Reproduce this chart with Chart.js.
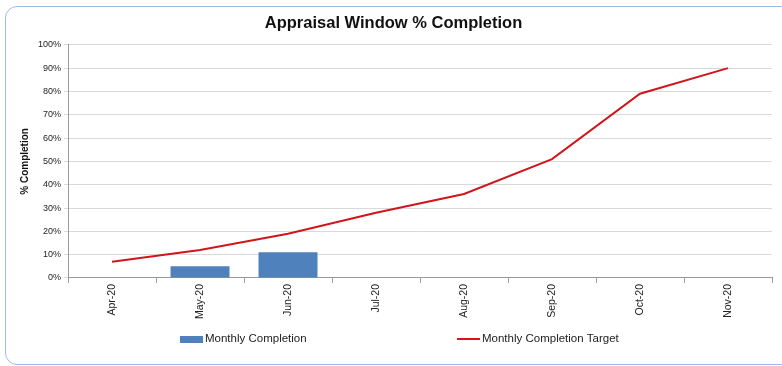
<!DOCTYPE html>
<html>
<head>
<meta charset="utf-8">
<script src="https://cdn.jsdelivr.net/npm/chart.js@4.4.1/dist/chart.umd.min.js"></script>
<style>
  html, body { margin: 0; padding: 0; background: #fff; overflow: hidden; }
  #wrap { position: relative; width: 782px; height: 366px; }
  #frame {
    position: absolute; left: 5px; top: 6px; width: 800px; height: 359px;
    border: 1.5px solid #9fbbe0; border-radius: 12px; box-sizing: border-box;
  }
  #chart { position: absolute; left: 0; top: 0; }
</style>
</head>
<body>
<div id="wrap">
  <div id="frame"></div>
  <canvas id="chart" width="782" height="366"></canvas>
</div>
<script>
const months = ['Apr-20', 'May-20', 'Jun-20', 'Jul-20', 'Aug-20', 'Sep-20', 'Oct-20', 'Nov-20'];
const monthlyCompletion = [null, 5, 11, null, null, null, null, null];
const completionTarget = [7, 12, 19, 28, 36, 51, 79, 90];
const yTicks = [0, 10, 20, 30, 40, 50, 60, 70, 80, 90, 100];

const FONT = "'Liberation Sans', Arial, sans-serif";

// legend drawn on the canvas so the two entries can sit far apart
const spreadLegend = {
  id: 'spreadLegend',
  afterDraw(chart) {
    const ctx = chart.ctx;
    const y = 339;
    const sets = chart.data.datasets;
    const slots = [180, 457];
    ctx.save();
    ctx.font = '11.5px ' + FONT;
    ctx.textBaseline = 'middle';
    sets.forEach((ds, i) => {
      const x = slots[i];
      if (ds.type === 'line') {
        ctx.strokeStyle = ds.borderColor;
        ctx.lineWidth = 2;
        ctx.beginPath();
        ctx.moveTo(x, y);
        ctx.lineTo(x + 23, y);
        ctx.stroke();
      } else {
        ctx.fillStyle = ds.backgroundColor;
        ctx.fillRect(x, y - 3, 23, 7);
      }
      ctx.fillStyle = '#222';
      ctx.fillText(ds.label, x + 25, y);
    });
    ctx.restore();
  }
};

new Chart(document.getElementById('chart'), {
  type: 'bar',
  data: {
    labels: months,
    datasets: [
      {
        label: 'Monthly Completion',
        data: monthlyCompletion,
        backgroundColor: '#4f81bd',
        categoryPercentage: 1,
        barPercentage: 0.67,
        order: 2
      },
      {
        type: 'line',
        label: 'Monthly Completion Target',
        data: completionTarget,
        borderColor: '#d0161b',
        borderWidth: 2,
        pointRadius: 0,
        tension: 0,
        fill: false,
        order: 1
      }
    ]
  },
  plugins: [spreadLegend],
  options: {
    responsive: false,
    animation: false,
    layout: { padding: { left: 15, right: 10, top: 8, bottom: 46 } },
    plugins: {
      legend: { display: false },
      tooltip: { enabled: false },
      title: {
        display: true,
        text: 'Appraisal Window % Completion',
        color: '#111',
        font: { family: FONT, size: 16.5, weight: 'bold' },
        padding: { top: 6, bottom: 11 }
      }
    },
    scales: {
      x: {
        offset: true,
        grid: { offset: true, drawOnChartArea: false, drawTicks: true, tickLength: 5, color: '#999' },
        border: { color: '#999' },
        ticks: {
          minRotation: 90,
          maxRotation: 90,
          color: '#222',
          padding: 1,
          font: { family: FONT, size: 10.5 }
        }
      },
      y: {
        min: 0,
        max: 100,
        afterBuildTicks(axis) { axis.ticks = yTicks.map(v => ({ value: v })); },
        grid: { color: '#d9d9d9', lineWidth: 1, tickLength: 4 },
        border: { color: '#999' },
        title: {
          display: true,
          text: '% Completion',
          color: '#111',
          font: { family: FONT, size: 10, weight: 'bold' },
          padding: { bottom: 4 }
        },
        ticks: {
          color: '#222',
          padding: 3,
          font: { family: FONT, size: 9 },
          callback: v => v + '%'
        }
      }
    }
  }
});
</script>
</body>
</html>
